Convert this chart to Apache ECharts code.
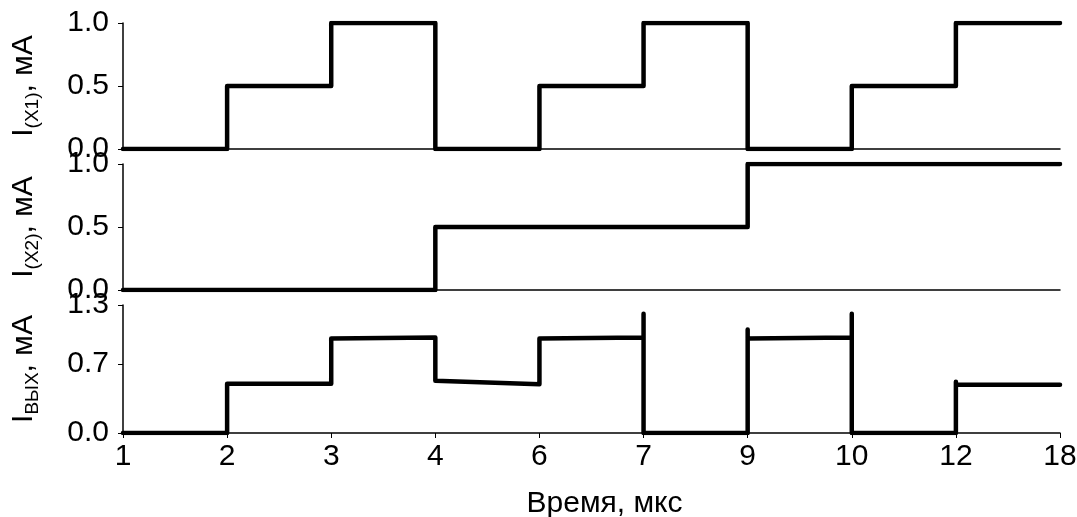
<!DOCTYPE html>
<html lang="ru">
<head>
    <meta charset="UTF-8">
    <title>Токи</title>
    <script src="https://cdn.jsdelivr.net/npm/echarts@6/dist/echarts.min.js"></script>
</head>
<style>
html,body{margin:0;padding:0;background-color:#ffffff}
#chartBox{width:1077px;height:517px}
</style>
<body>
    <div id="chartBox"></div>
</body>
<script>
// подписи оси времени (равномерные шаги)
const timeLabels = ['1', '2', '3', '4', '6', '7', '9', '10', '12', '18'];
// уровни на каждом интервале между метками
const x1Levels = [0, 0.5, 1.0, 0, 0.5, 1.0, 0, 0.5, 1.0];
const x2Levels = [0, 0, 0, 0.5, 0.5, 0.5, 1.0, 1.0, 1.0];
// выходной ток: [индекс метки, значение]
const outPoints = [
    [0, 0], [1, 0], [1, 0.5], [2, 0.5], [2, 0.96], [3, 0.97],
    [3, 0.53], [4, 0.495], [4, 0.96], [5, 0.97], [5, 1.21], [5, 0],
    [6, 0], [6, 1.05], [6, 0.96], [7, 0.97], [7, 1.21], [7, 0],
    [8, 0], [8, 0.52], [8, 0.49], [9, 0.49]
];
const y12Ticks = [0, 0.5, 1.0];
const y3Ticks = [0, 0.7, 1.3];

const FONT = 'Liberation Sans';

// уровни -> точки ступенчатой линии
function levelsToPoints(levels) {
    let pts = levels.map((v, i) => [i, v]);
    pts.push([levels.length, levels[levels.length - 1]]);
    return pts;
}

function yName(sub) {
    return '{i|I}{s|' + sub + '}{i|, мА}';
}

const nameRich = {
    i: {fontSize: 30, lineHeight: 30, verticalAlign: 'top', fontFamily: FONT, color: '#000'},
    s: {fontSize: 19, lineHeight: 19, verticalAlign: 'top', padding: [14, 0, 0, 0], fontFamily: FONT, color: '#000'}
};

function xAxisOf(idx, bottom) {
    return {
        type: 'value',
        gridIndex: idx,
        min: 0,
        max: 9,
        interval: 1,
        splitLine: {show: false},
        axisLine: {show: true, onZero: false, lineStyle: {color: '#000', width: 1.5}},
        axisTick: {show: bottom, length: 5, lineStyle: {color: '#000', width: 1}},
        axisLabel: {
            show: bottom,
            margin: 9,
            fontSize: 30,
            fontFamily: FONT,
            color: '#000',
            formatter: v => timeLabels[v]
        },
        name: bottom ? 'Время, мкс' : '',
        nameLocation: 'middle',
        nameGap: 56,
        nameTextStyle: {fontSize: 30, fontFamily: FONT, color: '#000', padding: [0, 0, 0, 26]}
    };
}

function yAxisOf(idx, max, ticks, sub) {
    return {
        type: 'value',
        gridIndex: idx,
        min: 0,
        max: max,
        splitLine: {show: false},
        axisLine: {show: true, lineStyle: {color: '#000', width: 1.5}},
        axisTick: {show: true, length: 5, customValues: ticks, lineStyle: {color: '#000', width: 1}},
        axisLabel: {
            margin: 14,
            fontSize: 30,
            fontFamily: FONT,
            color: '#000',
            customValues: ticks,
            formatter: v => v.toFixed(1)
        },
        name: yName(sub),
        nameLocation: 'middle',
        nameGap: 84,
        nameTextStyle: {rich: nameRich}
    };
}

function lineSeries(idx, data, step) {
    return {
        type: 'line',
        xAxisIndex: idx,
        yAxisIndex: idx,
        data: data,
        step: step,
        symbol: 'none',
        animation: false,
        lineStyle: {color: '#000', width: 4.5, cap: 'round', join: 'round'}
    };
}

let chartObj = echarts.init(document.getElementById('chartBox'));
chartObj.setOption({
    backgroundColor: '#fff',
    animation: false,
    grid: [
        {left: 123, right: 17, top: 23, height: 126, outerBoundsMode: 'none'},
        {left: 123, right: 17, top: 164, height: 126, outerBoundsMode: 'none'},
        {left: 123, right: 17, top: 305, height: 128, outerBoundsMode: 'none'}
    ],
    xAxis: [xAxisOf(0, false), xAxisOf(1, false), xAxisOf(2, true)],
    yAxis: [
        yAxisOf(0, 1.0, y12Ticks, '(X1)'),
        yAxisOf(1, 1.0, y12Ticks, '(X2)'),
        yAxisOf(2, 1.3, y3Ticks, 'ВЫХ')
    ],
    series: [
        lineSeries(0, levelsToPoints(x1Levels), 'end'),
        lineSeries(1, levelsToPoints(x2Levels), 'end'),
        lineSeries(2, outPoints, false)
    ]
});
</script>
</html>
